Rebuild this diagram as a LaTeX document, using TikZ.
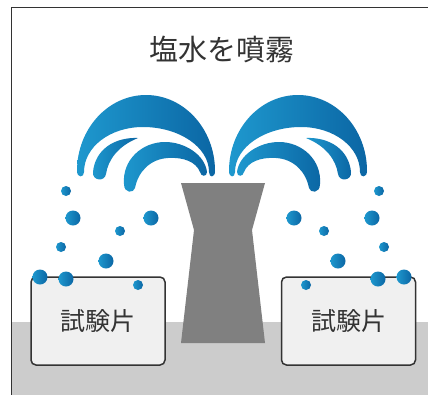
\documentclass[tikz,border=0pt]{standalone}
\usepackage{fontspec}
\newfontfamily\jpfont{Noto Sans CJK JP}
\definecolor{waterlight}{RGB}{30,152,206}
\definecolor{waterdark}{RGB}{11,102,164}
\definecolor{inkgray}{RGB}{51,51,51}
\definecolor{floorgray}{RGB}{204,204,204}
\definecolor{nozzlegray}{RGB}{128,128,128}
\definecolor{panelfill}{RGB}{240,240,240}

% Three water jets of one fountain arm; #1 is the fill style.
\newcommand{\jetshapes}[1]{%
  % outer arc
  \path[#1] (77,171) .. controls (77,129) and (108,95) .. (146,95)
     .. controls (184,95) and (215,129) .. (215,171)
     .. controls (215,178) and (209,178) .. (209,172)
     .. controls (209,147) and (179,127) .. (143,127)
     .. controls (110,127) and (84,147) .. (84,172)
     .. controls (84,178) and (77,178) .. (77,171) -- cycle;
  % small blade
  \path[#1] (138,138) .. controls (114,137) and (95,150) .. (93,172)
     .. controls (92,181) and (105,182) .. (106,174)
     .. controls (108,160) and (118,146) .. (138,138) -- cycle;
  % inner arc
  \path[#1] (124,184) .. controls (122,160) and (142,142) .. (165,142)
     .. controls (185,142) and (205,155) .. (207,172)
     .. controls (207,177) and (201,177) .. (200,172)
     .. controls (196,162) and (184,157) .. (168,158)
     .. controls (150,159) and (138,172) .. (135,188)
     .. controls (134,193) and (124,194) .. (124,184) -- cycle;
}

\begin{document}
\begin{tikzpicture}[x=1pt,y=-1pt,
  water/.style={left color=waterlight, right color=waterdark},
  panel/.style={draw=inkgray, line width=1.5pt, fill=panelfill,
    rounded corners=5pt, minimum width=134pt, minimum height=88pt,
    inner sep=0pt, text=inkgray, font=\jpfont\fontsize{25pt}{30pt}\selectfont},
  caption/.style={text=inkgray, inner sep=0pt,
    font=\jpfont\fontsize{29pt}{34pt}\selectfont}]

\useasboundingbox (0,0) rectangle (428,394);
\clip (0,0) rectangle (428,394);
\fill[white] (0,0) rectangle (428,394);

% floor
\fill[floorgray] (11,322) rectangle (440,400);
% chamber outline
\draw[inkgray, line width=1.2pt] (11.5,400) -- (11.5,7.5) -- (440,7.5);

\node[caption] (title) at (222,50) {塩水を噴霧};

% spray nozzle
\fill[nozzlegray] (181,183) -- (265,183) -- (252,230) -- (265,343)
  -- (181,343) -- (194,230) -- cycle;

% test pieces
\node[panel] (piece1) at (98,321) {試験片};
\node[panel] (piece2) at (348.5,321) {試験片};

% water jets, left arm and its mirror image
\jetshapes{water}
\begin{scope}[shift={(444,0)}, xscale=-1]
  \jetshapes{water}
\end{scope}

% droplets
\foreach \px/\py/\r in {66/191/5, 73/218/7.5, 151/218/7.5, 120/231/5,
    61/247/5, 106/261/7.5, 40/277/7.5, 66/279/7.5, 138/285/5,
    379/191/5, 372/218/7.5, 294/218/7.5, 324/231/5,
    384/247/5, 338/261/7.5, 404/277/7.5, 378/279/7.5, 306/285/5}
  \path[water] (\px,\py) circle[radius=\r pt];

\end{tikzpicture}
\end{document}
